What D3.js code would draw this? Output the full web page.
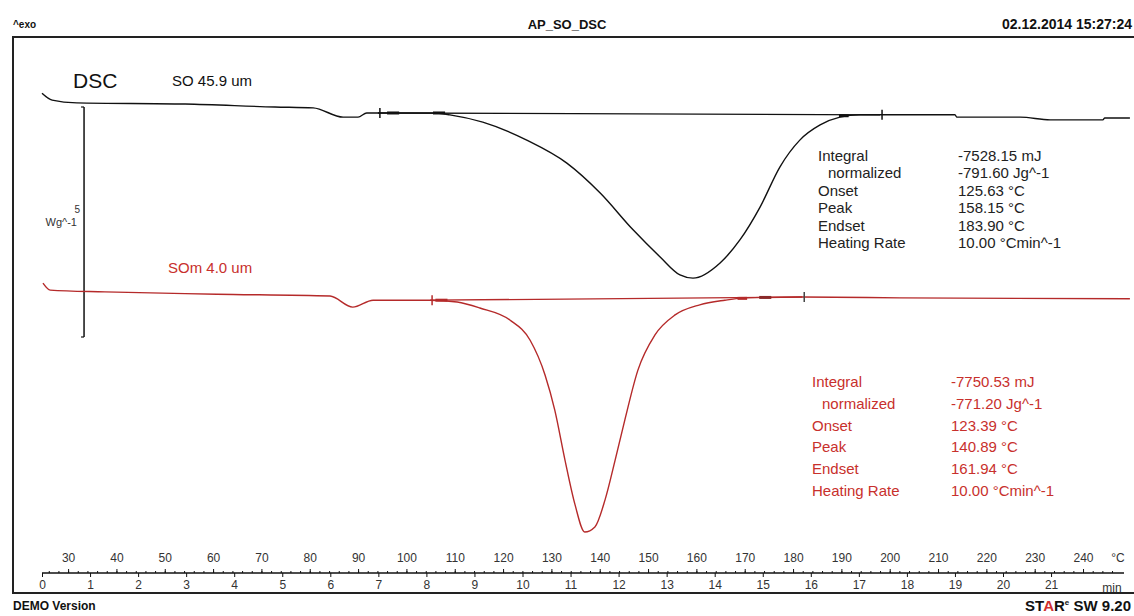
<!DOCTYPE html>
<html>
<head>
<meta charset="utf-8">
<script src="https://cdn.jsdelivr.net/npm/d3@7"></script>
<style>
  html, body { margin: 0; padding: 0; background: #fff; }
  svg { display: block; font-family: "Liberation Sans", Arial, sans-serif; }
</style>
</head>
<body>
<svg id="chart" width="1134" height="616"></svg>
<script>
// ── Data (temperature in °C, heat flow in W/g as displayed with offsets) ─────
const tempTicks  = [30, 40, 50, 60, 70, 80, 90, 100, 110, 120, 130, 140, 150, 160, 170, 180, 190, 200, 210, 220, 230, 240];
const timeTicks  = [0, 1, 2, 3, 4, 5, 6, 7, 8, 9, 10, 11, 12, 13, 14, 15, 16, 17, 18, 19, 20, 21];

// SO 45.9 um (black)
const soTemp = [24.6, 26.7, 31.8, 54.2, 72.8, 80.7, 86.9, 90.0, 91.8, 94.1, 105.5, 109.0, 115.8, 124.9, 133.2, 140.1, 146.9, 152.5, 156.6, 159.3, 164.9, 169.0, 173.2, 177.3, 181.4, 185.6, 189.7, 193.9, 198.0, 213.5, 213.9, 227.0, 233.2, 244.1, 244.5, 249.7];
const soHf   = [0.30, 0.15, 0.09, 0.065, 0.0, -0.02, -0.22, -0.22, -0.13, -0.13, -0.13, -0.17, -0.33, -0.72, -1.22, -1.87, -2.67, -3.26, -3.65, -3.72, -3.39, -2.89, -2.17, -1.30, -0.72, -0.39, -0.22, -0.17, -0.17, -0.17, -0.22, -0.22, -0.28, -0.28, -0.24, -0.24];

// SOm 4.0 um (red)
const somTemp = [24.8, 26.3, 37.6, 60.8, 84.2, 88.9, 93.1, 104.9, 110.5, 115.2, 121.4, 125.6, 128.7, 130.7, 132.8, 134.9, 136.9, 139.0, 141.1, 143.2, 145.2, 147.9, 151.4, 155.6, 160.7, 165.9, 170.1, 181.9, 202.1, 249.7];
const somHf   = [-3.83, -3.98, -4.02, -4.07, -4.11, -4.35, -4.20, -4.20, -4.24, -4.37, -4.63, -5.07, -5.83, -6.59, -7.67, -8.65, -9.24, -9.13, -8.54, -7.67, -6.80, -5.72, -4.96, -4.52, -4.30, -4.20, -4.15, -4.13, -4.15, -4.17];

// integration limits [T1, T2] and baseline hf [h1, h2]
const soLimits  = [94.1, 198.0];
const soBase    = [-0.13, -0.17];
const somLimits = [104.9, 181.9];
const somBase   = [-4.20, -4.13];

const resultLabels = ['Integral', ' normalized', 'Onset', 'Peak', 'Endset', 'Heating Rate'];
const soResults    = ['-7528.15 mJ', '-791.60 Jg^-1', '125.63 °C', '158.15 °C', '183.90 °C', '10.00 °Cmin^-1'];
const somResults   = ['-7750.53 mJ', '-771.20 Jg^-1', '123.39 °C', '140.89 °C', '161.94 °C', '10.00 °Cmin^-1'];

// ── Layout ──────────────────────────────────────────────────────────────────
const black = '#111';
const red   = '#b52a2a';
const redText = '#c8302c';
const axisY = 573;

const svg = d3.select('#chart');

const x  = d3.scaleLinear().domain([24.6, 250]).range([42, 42 + 225.4 * 4.833]);
const xt = d3.scaleLinear().domain([0, 22]).range([42, 42 + 22 * 48.05]);
const y  = d3.scaleLinear().domain([1, -10]).range([61, 567]);

// Header
svg.append('text').attr('x', 13).attr('y', 28).attr('font-size', 10).attr('font-weight', 'bold')
  .attr('fill', black).text('^exo');
svg.append('text').attr('x', 567).attr('y', 29).attr('text-anchor', 'middle').attr('font-size', 13)
  .attr('font-weight', 'bold').attr('fill', black).text('AP_SO_DSC');
svg.append('text').attr('x', 1132).attr('y', 29).attr('text-anchor', 'end').attr('font-size', 14)
  .attr('font-weight', 'bold').attr('fill', black).text('02.12.2014 15:27:24');

// Frame
svg.append('line').attr('x1', 13).attr('x2', 1134).attr('y1', 37).attr('y2', 37)
  .attr('stroke', '#222').attr('stroke-width', 2);
svg.append('line').attr('x1', 13).attr('x2', 13).attr('y1', 36).attr('y2', 594)
  .attr('stroke', '#222').attr('stroke-width', 2);
svg.append('line').attr('x1', 13).attr('x2', 1134).attr('y1', 593).attr('y2', 593)
  .attr('stroke', '#222').attr('stroke-width', 2);

// Footer
svg.append('text').attr('x', 13).attr('y', 610).attr('font-size', 12).attr('font-weight', 'bold')
  .attr('fill', black).text('DEMO Version');
const star = svg.append('text').attr('x', 1131).attr('y', 611).attr('text-anchor', 'end')
  .attr('font-size', 15).attr('font-weight', 'bold').attr('fill', black);
star.append('tspan').text('ST');
star.append('tspan').attr('fill', '#d03030').text('A');
star.append('tspan').text('R');
star.append('tspan').attr('font-size', 8).attr('dy', -6).text('e');
star.append('tspan').attr('dy', 6).text(' SW 9.20');

// Curve labels
svg.append('text').attr('x', 73).attr('y', 88).attr('font-size', 21).attr('fill', black).text('DSC');
svg.append('text').attr('x', 172).attr('y', 86).attr('font-size', 15).attr('fill', black).text('SO 45.9 um');
svg.append('text').attr('x', 168).attr('y', 273).attr('font-size', 15).attr('fill', redText).text('SOm 4.0 um');

// Heat-flow scale bar (5 W/g)
const barX = x(33.3);
svg.append('line').attr('x1', barX).attr('x2', barX).attr('y1', y(0)).attr('y2', y(-5))
  .attr('stroke', black).attr('stroke-width', 1.5);
svg.append('line').attr('x1', barX - 3).attr('x2', barX).attr('y1', y(0)).attr('y2', y(0))
  .attr('stroke', black).attr('stroke-width', 1.2);
svg.append('line').attr('x1', barX - 3).attr('x2', barX).attr('y1', y(-5)).attr('y2', y(-5))
  .attr('stroke', black).attr('stroke-width', 1.2);
svg.append('text').attr('x', 80).attr('y', 213).attr('text-anchor', 'end').attr('font-size', 10)
  .attr('fill', '#333').text('5');
svg.append('text').attr('x', 77).attr('y', 226).attr('text-anchor', 'end').attr('font-size', 11)
  .attr('fill', '#333').text('Wg^-1');

// Curves
const line = d3.line().x(d => x(d[0])).y(d => y(d[1])).curve(d3.curveMonotoneX);

function drawCurve(temps, hfs, limits, base, color) {
  const pts = temps.map((t, i) => [t, hfs[i]]);
  // integration baseline
  svg.append('line')
    .attr('x1', x(limits[0])).attr('x2', x(limits[1]))
    .attr('y1', y(base[0])).attr('y2', y(base[1]))
    .attr('stroke', color).attr('stroke-width', 1.3);
  svg.append('path').datum(pts)
    .attr('fill', 'none').attr('stroke', color).attr('stroke-width', 1.4)
    .attr('d', line);
  // limit markers
  limits.forEach((t, i) => {
    const h = base[i];
    svg.append('line')
      .attr('x1', x(t) + 2).attr('x2', x(t) + 2)
      .attr('y1', y(h) - 5).attr('y2', y(h) + 5)
      .attr('stroke', i === 1 && color === red ? '#444' : color).attr('stroke-width', 1.5);
  });
}

drawCurve(soTemp, soHf, soLimits, soBase, black);
drawCurve(somTemp, somHf, somLimits, somBase, red);

// Thick limit dashes
[[96, 98.5, -0.13, black], [105.5, 108, -0.13, black], [189.5, 191.5, -0.19, black],
 [106, 108.5, -4.20, red], [168.5, 170.5, -4.16, red], [173, 175.5, -4.14, '#8a2a2a']].forEach(d => {
  svg.append('line').attr('x1', x(d[0])).attr('x2', x(d[1])).attr('y1', y(d[2])).attr('y2', y(d[2]))
    .attr('stroke', d[3]).attr('stroke-width', 3);
});

// Results tables
function drawTable(values, x0, xv, y0, dy, color) {
  resultLabels.forEach((lab, i) => {
    svg.append('text').attr('x', lab.startsWith(' ') ? x0 + 10 : x0).attr('y', y0 + i * dy)
      .attr('font-size', 15).attr('fill', color).text(lab.trim());
    svg.append('text').attr('x', xv).attr('y', y0 + i * dy)
      .attr('font-size', 15).attr('fill', color).text(values[i]);
  });
}
drawTable(soResults, 818, 958, 161, 17.4, '#222');
drawTable(somResults, 812, 951, 387, 21.8, redText);

// Axes
const axisG = svg.append('g').attr('transform', `translate(0,${axisY})`);
const tempMinor = d3.range(26, 247, 2);
axisG.append('g').call(d3.axisTop(x).tickValues(tempMinor).tickSize(2).tickFormat(''));
axisG.append('g').call(d3.axisTop(x).tickValues(tempTicks).tickSize(4).tickPadding(7).tickFormat(d3.format('d')));
axisG.append('g').call(d3.axisBottom(xt).tickValues(timeTicks).tickSize(4).tickPadding(3).tickFormat(d3.format('d')));
axisG.selectAll('.domain').remove();
axisG.selectAll('.tick line').attr('stroke', black);
axisG.selectAll('.tick text').attr('font-size', 12).attr('fill', '#333')
  .attr('font-family', '"Liberation Sans", Arial, sans-serif');
axisG.append('line').attr('x1', 42).attr('x2', 1124).attr('y1', 0).attr('y2', 0)
  .attr('stroke', black).attr('stroke-width', 1.3);
axisG.append('text').attr('x', 1118).attr('y', -11).attr('text-anchor', 'middle')
  .attr('font-size', 12).attr('fill', '#333').text('°C');
axisG.append('text').attr('x', 1112).attr('y', 19).attr('text-anchor', 'middle')
  .attr('font-size', 12).attr('fill', '#333').text('min');
</script>
</body>
</html>
